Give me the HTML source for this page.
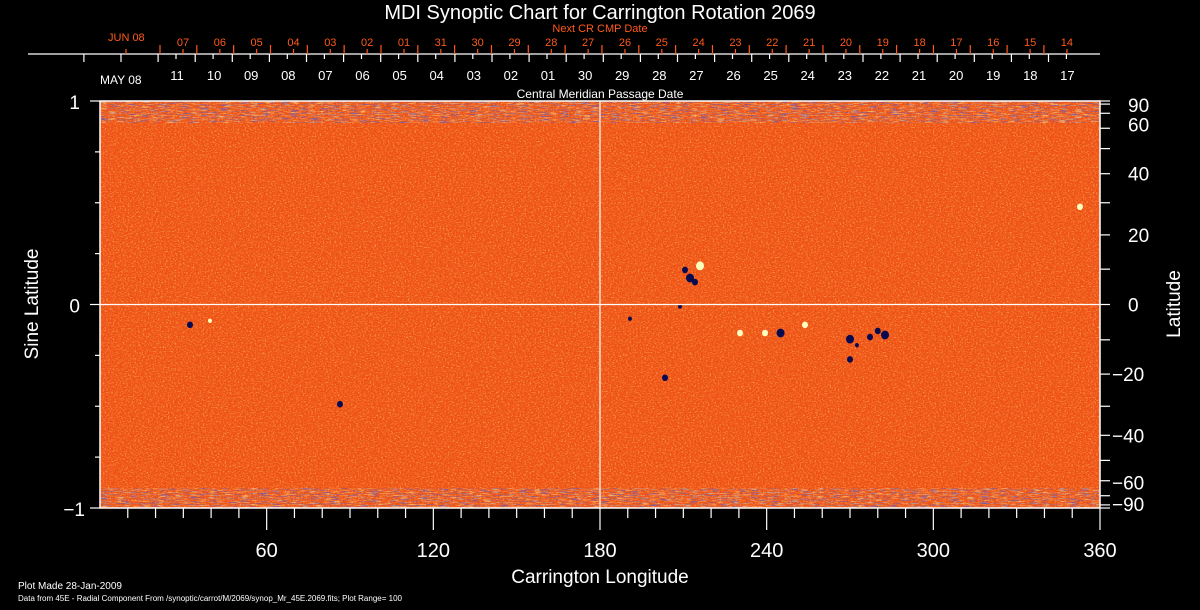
<!DOCTYPE html>
<html><head><meta charset="utf-8"><style>
html,body{margin:0;padding:0;background:#000;width:1200px;height:610px;overflow:hidden}
svg{display:block}
text{font-family:"Liberation Sans",sans-serif;font-weight:300}
</style></head><body>
<svg id="chart" width="1200" height="610" viewBox="0 0 1200 610">
<defs>
<filter id="noise" x="0" y="0" width="100%" height="100%">
<feTurbulence type="fractalNoise" baseFrequency="0.6 0.8" numOctaves="2" seed="4"/>
<feColorMatrix type="matrix" values="0 0 0 0 1  0 0 0 0 0.75  0 0 0 0 0.15  2.4 0 0 0 -1.15"/>
</filter>
<filter id="noise2" x="0" y="0" width="100%" height="100%">
<feTurbulence type="fractalNoise" baseFrequency="0.5 0.7" numOctaves="2" seed="9"/>
<feColorMatrix type="matrix" values="0 0 0 0 0.8  0 0 0 0 0.05  0 0 0 0 0  0 2.4 0 0 -1.1"/>
</filter>
<filter id="bandnoise" x="0" y="0" width="100%" height="100%">
<feTurbulence type="fractalNoise" baseFrequency="0.1 0.9" numOctaves="2" seed="2"/>
<feColorMatrix type="matrix" values="0 0 0 0 0.1  0 0 0 0 0.1  0 0 0 0 0.6  0 0 2.6 0 -1.3"/>
</filter>
<filter id="bandnoise2" x="0" y="0" width="100%" height="100%">
<feTurbulence type="fractalNoise" baseFrequency="0.12 0.9" numOctaves="2" seed="7"/>
<feColorMatrix type="matrix" values="0 0 0 0 1  0 0 0 0 0.95  0 0 0 0 0.4  0 0 2.6 0 -1.3"/>
</filter>
</defs>
<g id="plot">
<rect x="100" y="101" width="1000" height="407" fill="#f0541a"/>
<rect x="100" y="101" width="1000" height="407" filter="url(#noise)" opacity="0.7"/>
<rect x="100" y="101" width="1000" height="407" filter="url(#noise2)" opacity="0.6"/>
<rect x="100" y="101" width="1000" height="22" filter="url(#bandnoise)"/>
<rect x="100" y="101" width="1000" height="22" filter="url(#bandnoise2)" opacity="0.7"/>
<rect x="100" y="488" width="1000" height="20" filter="url(#bandnoise)"/>
<rect x="100" y="488" width="1000" height="20" filter="url(#bandnoise2)" opacity="0.7"/>
<g id="features"></g>
</g>
<g id="axes"></g>
<text x="600" y="19" font-size="20" fill="#fff" text-anchor="middle">MDI Synoptic Chart for Carrington Rotation 2069</text>
<text x="600" y="32" font-size="11" fill="#ff5a1a" text-anchor="middle">Next CR CMP Date</text>
<text x="600" y="98" font-size="12" fill="#fff" text-anchor="middle">Central Meridian Passage Date</text>
<text x="600" y="583" font-size="19" fill="#fff" text-anchor="middle">Carrington Longitude</text>
<text transform="translate(38,304) rotate(-90)" font-size="19" fill="#fff" text-anchor="middle">Sine Latitude</text>
<text transform="translate(1180,304) rotate(-90)" font-size="19" fill="#fff" text-anchor="middle">Latitude</text>
<text x="18" y="589" font-size="10" fill="#fff">Plot Made 28-Jan-2009</text>
<text x="18" y="601" font-size="8" fill="#fff">Data from 45E - Radial Component From /synoptic/carrot/M/2069/synop_Mr_45E.2069.fits; Plot Range=  100</text>
</svg>
<script>
const NS="http://www.w3.org/2000/svg";
const xTicks=[60,120,180,240,300,360];
const sinTicks=[1,0,-1];
const latTicks=[90,60,40,20,0,-20,-40,-60,-90];
const cmpLabels=["11","10","09","08","07","06","05","04","03","02","01","30","29","28","27","26","25","24","23","22","21","20","19","18","17"];
const nextLabels=["07","06","05","04","03","02","01","31","30","29","28","27","26","25","24","23","22","21","20","19","18","17","16","15","14"];
// features: longitude, sine latitude, polarity (1 white, -1 dark), size
const featLon=[212.4,210.6,216,245,239.4,270,277.2,282.6,203.4,230.4,32.4,86.4,39.6,253.8,190.8,270,352.8,208.8,214.2,272.5,280];
const featSin=[0.13,0.17,0.19,-0.14,-0.14,-0.17,-0.16,-0.15,-0.36,-0.14,-0.1,-0.49,-0.08,-0.1,-0.07,-0.27,0.48,-0.01,0.11,-0.2,-0.13];
const featPol=[-1,-1,1,-1,1,-1,-1,-1,-1,1,-1,-1,1,1,-1,-1,1,-1,-1,-1,-1];
const featSize=[4,3,4,4,3,4,3,4,3,3,3,3,2,3,2,3,3,2,3,2,3];

const X0=100,X1=1100,YT=101,YB=508,YC=304.5;
const xs=l=>X0+(l/360)*(X1-X0);
const ys=s=>YC-s*(YB-YT)/2;
const ax=document.getElementById('axes'),fg=document.getElementById('features');
function mk(tag,at,parent){const e=document.createElementNS(NS,tag);for(const k in at)e.setAttribute(k,at[k]);parent.appendChild(e);return e;}
function line(x1,y1,x2,y2,c,name){const e=mk('line',{x1,y1,x2,y2,stroke:c,'stroke-width':1.2},ax);

return e;}
function txt(x,y,s,size,c,anchor,name){const e=mk('text',{x,y,'font-size':size,fill:c,'text-anchor':anchor},ax);e.textContent=s;

return e;}

featLon.forEach((l,i)=>{
 const e=mk('ellipse',{cx:xs(l),cy:ys(featSin[i]),rx:featSize[i],ry:featSize[i]*1.1,fill:featPol[i]>0?'#ffffc0':'#0a0a50'},fg);
 
 
});
const fr=mk('rect',{x:X0,y:YT,width:X1-X0,height:YB-YT,fill:'none',stroke:'#fff','stroke-width':1.5},ax);


line(xs(180),YT,xs(180),YB,'#fff','central-meridian-line');
line(X0,ys(0),X1,ys(0),'#fff','equator-line');
for(let l=10;l<=360;l+=10){const maj=l%60===0;line(xs(l),YB,xs(l),YB+(maj?22:10),'#fff',maj?'x-major-tick':'x-minor-tick');}
xTicks.forEach(l=>txt(xs(l),557,String(l),20,'#fff','middle','x-tick-label'));
for(let s=-1;s<=1.001;s+=0.25){const maj=Math.abs(s%1)<0.01;line(maj?90:95,ys(s),X0,ys(s),'#fff','y-left-tick');}
sinTicks.forEach(s=>txt(s<0?85:80,ys(s)+8,s<0?'\u22121':String(s),19,'#fff','end','y-left-tick-label'));
for(let d=-90;d<=90;d+=10){line(X1,ys(Math.sin(d*Math.PI/180)),X1+10,ys(Math.sin(d*Math.PI/180)),'#fff','y-right-tick');}
latTicks.forEach(d=>{let y=ys(Math.sin(d*Math.PI/180))+7;if(d===90)y+=4;if(d===-90)y-=4;if(d===60)y-=4;if(d===-60)y+=2;
 txt(d<0?1112:1128,y,d<0?'\u2212'+(-d):String(d),19,'#fff','start','y-right-tick-label');});
line(28,54,1100,54,'#fff','date-axis-line');
txt(100,84,'MAY 08',12,'#fff','start','cmp-start-label');
txt(108,41,'JUN 08',11,'#ff5a1a','start','next-cmp-start-label');
const cs=37.1,ns=36.83;
for(let i=0;i<=26;i++){const x=121-cs+ i*cs; if(x>29&&x<1100) line(x,54,x,62,'#fff','cmp-major-tick');}
cmpLabels.forEach((s,i)=>{const x=177+i*cs;line(x-1,54,x-1,59,'#fff','cmp-minor-tick');txt(x,80,s,13,'#fff','middle','cmp-date-label');});
nextLabels.forEach((s,i)=>{const x=183+i*ns;line(x,49,x,54,'#ff5a1a','next-minor-tick');line(x-23,45,x-23,54,'#ff5a1a','next-major-tick');txt(x,46,s,11,'#ff5a1a','middle','next-cmp-date-label');});
line(126,49,126,54,'#ff5a1a','next-minor-tick');
</script>
</body></html>
